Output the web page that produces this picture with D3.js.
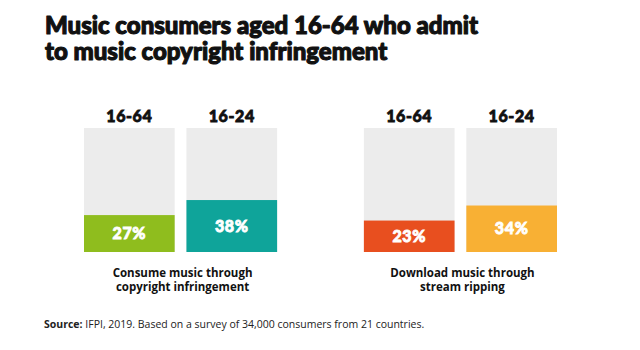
<!DOCTYPE html>
<html><head><meta charset="utf-8">
<script src="https://cdn.jsdelivr.net/npm/d3@7"></script>
<style>body{margin:0;background:#fff}svg{display:block}</style>
</head><body>
<script>
const titleLines = ["Music consumers aged 16-64 who admit", "to music copyright infringement"];
const groups = ["Consume music through|copyright infringement", "Download music through|stream ripping"];
const ageBands = ["16-64", "16-24"];
const values = [[27, 38], [23, 34]];
const colors = [["#8fbd1e", "#0fa49a"], ["#e84f1f", "#f8b034"]];
const sourceBold = "Source:";
const sourceText = " IFPI, 2019. Based on a survey of 34,000 consumers from 21 countries.";

const W = 640, H = 350;
const svg = d3.select("body").append("svg").attr("width", W).attr("height", H);
const heavy = "Lato, 'Open Sans', sans-serif";

const title = svg.append("text")
  .attr("font-family", heavy).attr("font-weight", 900).attr("font-size", 24)
  .attr("fill", "#111").attr("stroke", "#111").attr("stroke-width", 1.1)
  .attr("stroke-linejoin", "round");
title.selectAll("tspan").data(titleLines).join("tspan")
  .attr("x", 45).attr("y", (d, i) => 34 + i * 25.5).text(d => d);

const groupX = d3.scaleBand().domain(d3.range(groups.length)).range([84, 557]).paddingInner(0.31);
const barX = d3.scaleBand().domain(ageBands).range([0, groupX.bandwidth()]).paddingInner(0.115);
const y = d3.scaleLinear().domain([0, 90.7]).range([252, 128]);

groups.forEach((g, gi) => {
  const gg = svg.append("g").attr("transform", `translate(${groupX(gi)},0)`);
  ageBands.forEach((a, ai) => {
    const x0 = barX(a), bw = barX.bandwidth(), v = values[gi][ai];
    gg.append("rect").attr("x", x0).attr("y", y(90.7)).attr("width", bw)
      .attr("height", y(0) - y(90.7)).attr("fill", "#ececec");
    gg.append("rect").attr("x", x0).attr("y", y(v)).attr("width", bw)
      .attr("height", y(0) - y(v)).attr("fill", colors[gi][ai]);
    gg.append("text").attr("x", x0 + bw / 2).attr("y", 121.5).attr("text-anchor", "middle")
      .attr("font-family", heavy).attr("font-weight", 900).attr("font-size", 16)
      .attr("letter-spacing", 0.6)
      .attr("fill", "#111").attr("stroke", "#111").attr("stroke-width", 0.8).text(a);
    gg.append("text").attr("x", x0 + bw / 2).attr("y", (y(v) + y(0)) / 2 + 5.5)
      .attr("text-anchor", "middle")
      .attr("font-family", heavy).attr("font-weight", 900).attr("font-size", 16)
      .attr("letter-spacing", 0.6)
      .attr("fill", "#fff").attr("stroke", "#fff").attr("stroke-width", 0.8).text(v + "%");
  });
  const lines = g.split("|");
  const lab = gg.append("text").attr("text-anchor", "middle")
    .attr("font-family", "'Open Sans', sans-serif").attr("font-weight", 700).attr("font-size", 11.5)
    .attr("fill", "#111");
  lab.selectAll("tspan").data(lines).join("tspan")
    .attr("x", groupX.bandwidth() / 2 + 2).attr("y", (d, i) => 277 + i * 13.5).text(d => d);
});

const src = svg.append("text").attr("x", 44).attr("y", 327.5)
  .attr("font-family", "'Open Sans', sans-serif").attr("font-size", 10.5).attr("fill", "#222");
src.append("tspan").attr("font-weight", 700).text(sourceBold);
src.append("tspan").text(sourceText);
</script>
</body></html>
